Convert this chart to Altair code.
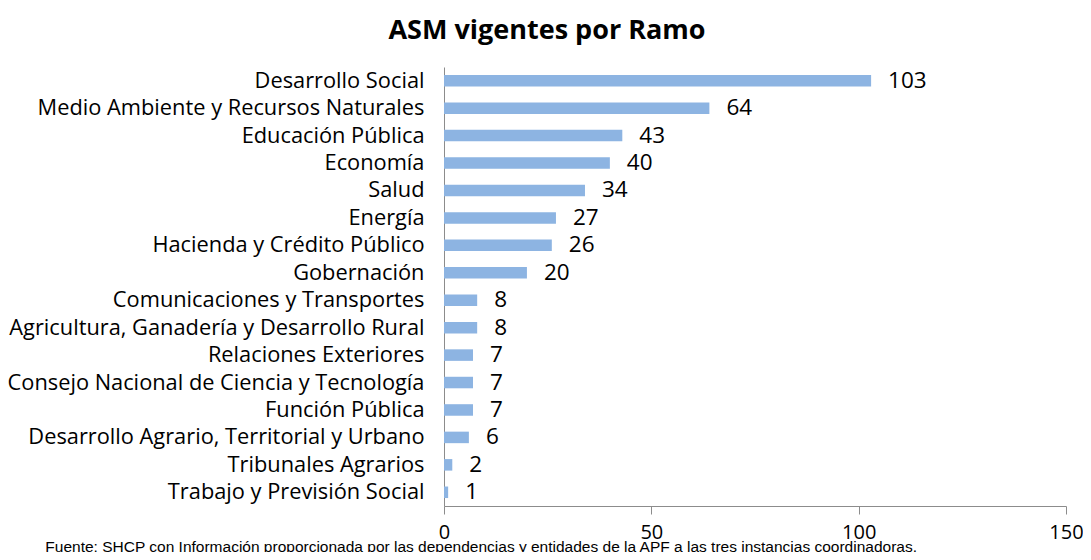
import altair as alt
import pandas as pd

categories = [
    "Desarrollo Social",
    "Medio Ambiente y Recursos Naturales",
    "Educación Pública",
    "Economía",
    "Salud",
    "Energía ",
    "Hacienda y Crédito Público",
    "Gobernación",
    "Comunicaciones y Transportes",
    "Agricultura, Ganadería y Desarrollo Rural",
    "Relaciones Exteriores",
    "Consejo Nacional de Ciencia y Tecnología",
    "Función Pública",
    "Desarrollo Agrario, Territorial y Urbano",
    "Tribunales Agrarios",
    "Trabajo y Previsión Social",
]
values = [103, 64, 43, 40, 34, 27, 26, 20, 8, 8, 7, 7, 7, 6, 2, 1]
x_ticks = [0, 50, 100, 150]
title_text = "ASM vigentes por Ramo"
source_text = "Fuente: SHCP con Información proporcionada por las dependencias y entidades de la APF a las tres instancias coordinadoras."

df = pd.DataFrame({"Ramo": categories, "ASM": values})

FONT = "Open Sans"

x = alt.X(
    "ASM:Q",
    scale=alt.Scale(domain=[0, 150], nice=False),
    axis=alt.Axis(
        values=x_ticks,
        title=None,
        grid=False,
        domainColor="#8c8c8c",
        tickColor="#8c8c8c",
        tickSize=8,
        labelFontSize=20,
        labelFont=FONT,
        labelColor="#000000",
        labelPadding=8,
        labelFlush=False,
    ),
)
y = alt.Y(
    "Ramo:N",
    sort=categories,
    scale=alt.Scale(paddingInner=0.58, paddingOuter=0.29),
    axis=alt.Axis(
        title=None,
        ticks=False,
        domainColor="#8c8c8c",
        labelFontSize=21.8,
        labelFont=FONT,
        labelColor="#000000",
        labelPadding=20,
        labelLimit=600,
    ),
)

bars = alt.Chart(df).mark_bar(color="#8db4e2").encode(x=x, y=y)
labels = alt.Chart(df).mark_text(
    align="left", baseline="middle", dx=17, fontSize=22.5, font=FONT, color="#000000"
).encode(x="ASM:Q", y=alt.Y("Ramo:N", sort=categories), text="ASM:Q")

src = pd.DataFrame({"t": [source_text]})
footer = alt.Chart(src).mark_text(
    align="right", baseline="alphabetic", fontSize=15.5, font="Liberation Sans",
    color="#000000"
).encode(x=alt.value(473), y=alt.value(485), text="t:N")

chart = alt.layer(bars, labels, footer).properties(
    width=622,
    height=439,
    title=alt.TitleParams(
        title_text, fontSize=27, font=FONT, fontWeight="bold", color="#000000",
        anchor="middle", dx=-208, offset=22,
    ),
    autosize=alt.AutoSizeParams(type="none"),
    padding={"left": 436, "top": 59, "right": 17, "bottom": 46},
).configure_view(stroke=None)

chart.save("out.html", embed_options={"renderer": "svg", "actions": False})
